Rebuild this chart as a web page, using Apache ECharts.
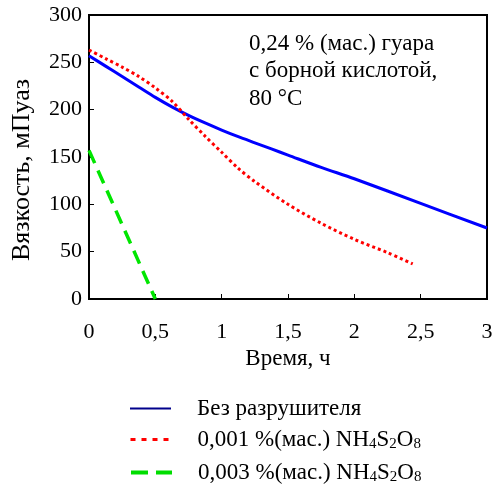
<!DOCTYPE html>
<html>
<head>
<meta charset="UTF-8">
<title>Вязкость</title>
<script src="https://cdn.jsdelivr.net/npm/echarts@6/dist/echarts.min.js"></script>
<style>
  html, body { margin: 0; padding: 0; background: #fff; }
  #chart { width: 496px; height: 491px; }
</style>
</head>
<body>
<div id="chart"></div>
<script>
  // values
  var xTicks = [0, 0.5, 1, 1.5, 2, 2.5, 3];
  var yTicks = [0, 50, 100, 150, 200, 250, 300];
  var seriesNames = ['Без разрушителя', '0,001 %(мас.) NH4S2O8', '0,003 %(мас.) NH4S2O8'];
  var noBreaker = [[0, 257], [0.125, 246], [0.25, 235], [0.375, 224], [0.5, 213], [0.625, 203], [0.75, 194],
    [0.875, 186], [1, 178.5], [1.125, 171.5], [1.25, 165], [1.375, 158.5], [1.5, 152], [1.75, 139], [2, 127],
    [2.5, 101], [3, 75]];
  var low = [[0, 263], [0.125, 254], [0.25, 245], [0.375, 235], [0.5, 223], [0.625, 209], [0.75, 190],
    [0.875, 172], [1, 155], [1.125, 138], [1.25, 124], [1.5, 100], [1.75, 80], [2, 63], [2.25, 49], [2.44, 37]];
  var high = [[0, 157], [0.5, 0]];
  var noteLines = ['0,24 % (мас.) гуара', 'с борной кислотой,', '80 °C'];

  var serif = 'Liberation Serif';
  var chart = echarts.init(document.getElementById('chart'), null, { renderer: 'canvas' });

  function legendAt(name, top, lineStyle) {
    return {
      data: [name],
      left: 129,
      top: top,
      itemWidth: 41,
      itemHeight: 14,
      padding: 0,
      selectedMode: false,
      itemStyle: { color: 'rgba(0,0,0,0)', opacity: 0, borderWidth: 0 },
      lineStyle: lineStyle,
      formatter: function (n) {
        return n.replace('NH4S2O8', 'NH{s|4}S{s|2}O{s|8}');
      },
      textStyle: {
        fontFamily: serif,
        fontSize: 23,
        color: '#000',
        padding: [0, 0, 0, 21],
        rich: {
          s: { fontFamily: serif, fontSize: 15, color: '#000', padding: [10, 0, 0, 0] }
        }
      }
    };
  }

  chart.setOption({
    animation: false,
    grid: {
      left: 89, right: 9, top: 15, bottom: 192,
      show: true, borderColor: '#000', borderWidth: 2
    },
    xAxis: {
      type: 'value', min: xTicks[0], max: xTicks[xTicks.length - 1], interval: 0.5,
      name: 'Время, ч', nameLocation: 'middle', nameGap: 47,
      nameTextStyle: { fontFamily: serif, fontSize: 23, color: '#000' },
      axisLine: { lineStyle: { color: '#000', width: 2 } },
      axisTick: { inside: true, length: 5, lineStyle: { color: '#000', width: 1 } },
      splitLine: { show: false },
      axisLabel: {
        margin: 22, fontFamily: serif, fontSize: 22, color: '#000',
        formatter: function (v) { return String(v).replace('.', ','); }
      }
    },
    yAxis: {
      type: 'value', min: yTicks[0], max: yTicks[yTicks.length - 1], interval: 50,
      name: 'Вязкость, мПуаз', nameLocation: 'middle', nameGap: 54,
      nameTextStyle: { fontFamily: serif, fontSize: 26, color: '#000', padding: [0, 26, 0, 0] },
      axisLine: { lineStyle: { color: '#000', width: 2 } },
      axisTick: { inside: true, length: 5, lineStyle: { color: '#000', width: 1 } },
      splitLine: { show: false },
      axisLabel: { margin: 7, fontFamily: serif, fontSize: 22, color: '#000' }
    },
    legend: [
      legendAt(seriesNames[0], 397, { color: '#00008b', width: 2, type: 'solid' }),
      legendAt(seriesNames[1], 428, { color: '#ff0000', width: 3, type: [5, 6] }),
      legendAt(seriesNames[2], 461, { color: '#00dd00', width: 4, type: [17, 8] })
    ],
    graphic: [{
      type: 'text', left: 249, top: 30,
      style: {
        text: noteLines.join('\n'),
        fontFamily: serif, fontSize: 23, lineHeight: 27.5, fill: '#000'
      }
    }],
    series: [
      {
        name: seriesNames[0], type: 'line', data: noBreaker, smooth: 0.3,
        symbol: 'none', color: '#0000ff',
        lineStyle: { color: '#0000ff', width: 3 }
      },
      {
        name: seriesNames[1], type: 'line', data: low, smooth: 0.3,
        symbol: 'none', color: '#ff0000',
        lineStyle: { color: '#ff0000', width: 3, type: [3, 3] }
      },
      {
        name: seriesNames[2], type: 'line', data: high,
        symbol: 'none', color: '#00e600',
        lineStyle: { color: '#00e600', width: 3.5, type: [14, 8] }
      }
    ]
  });
</script>
</body>
</html>
